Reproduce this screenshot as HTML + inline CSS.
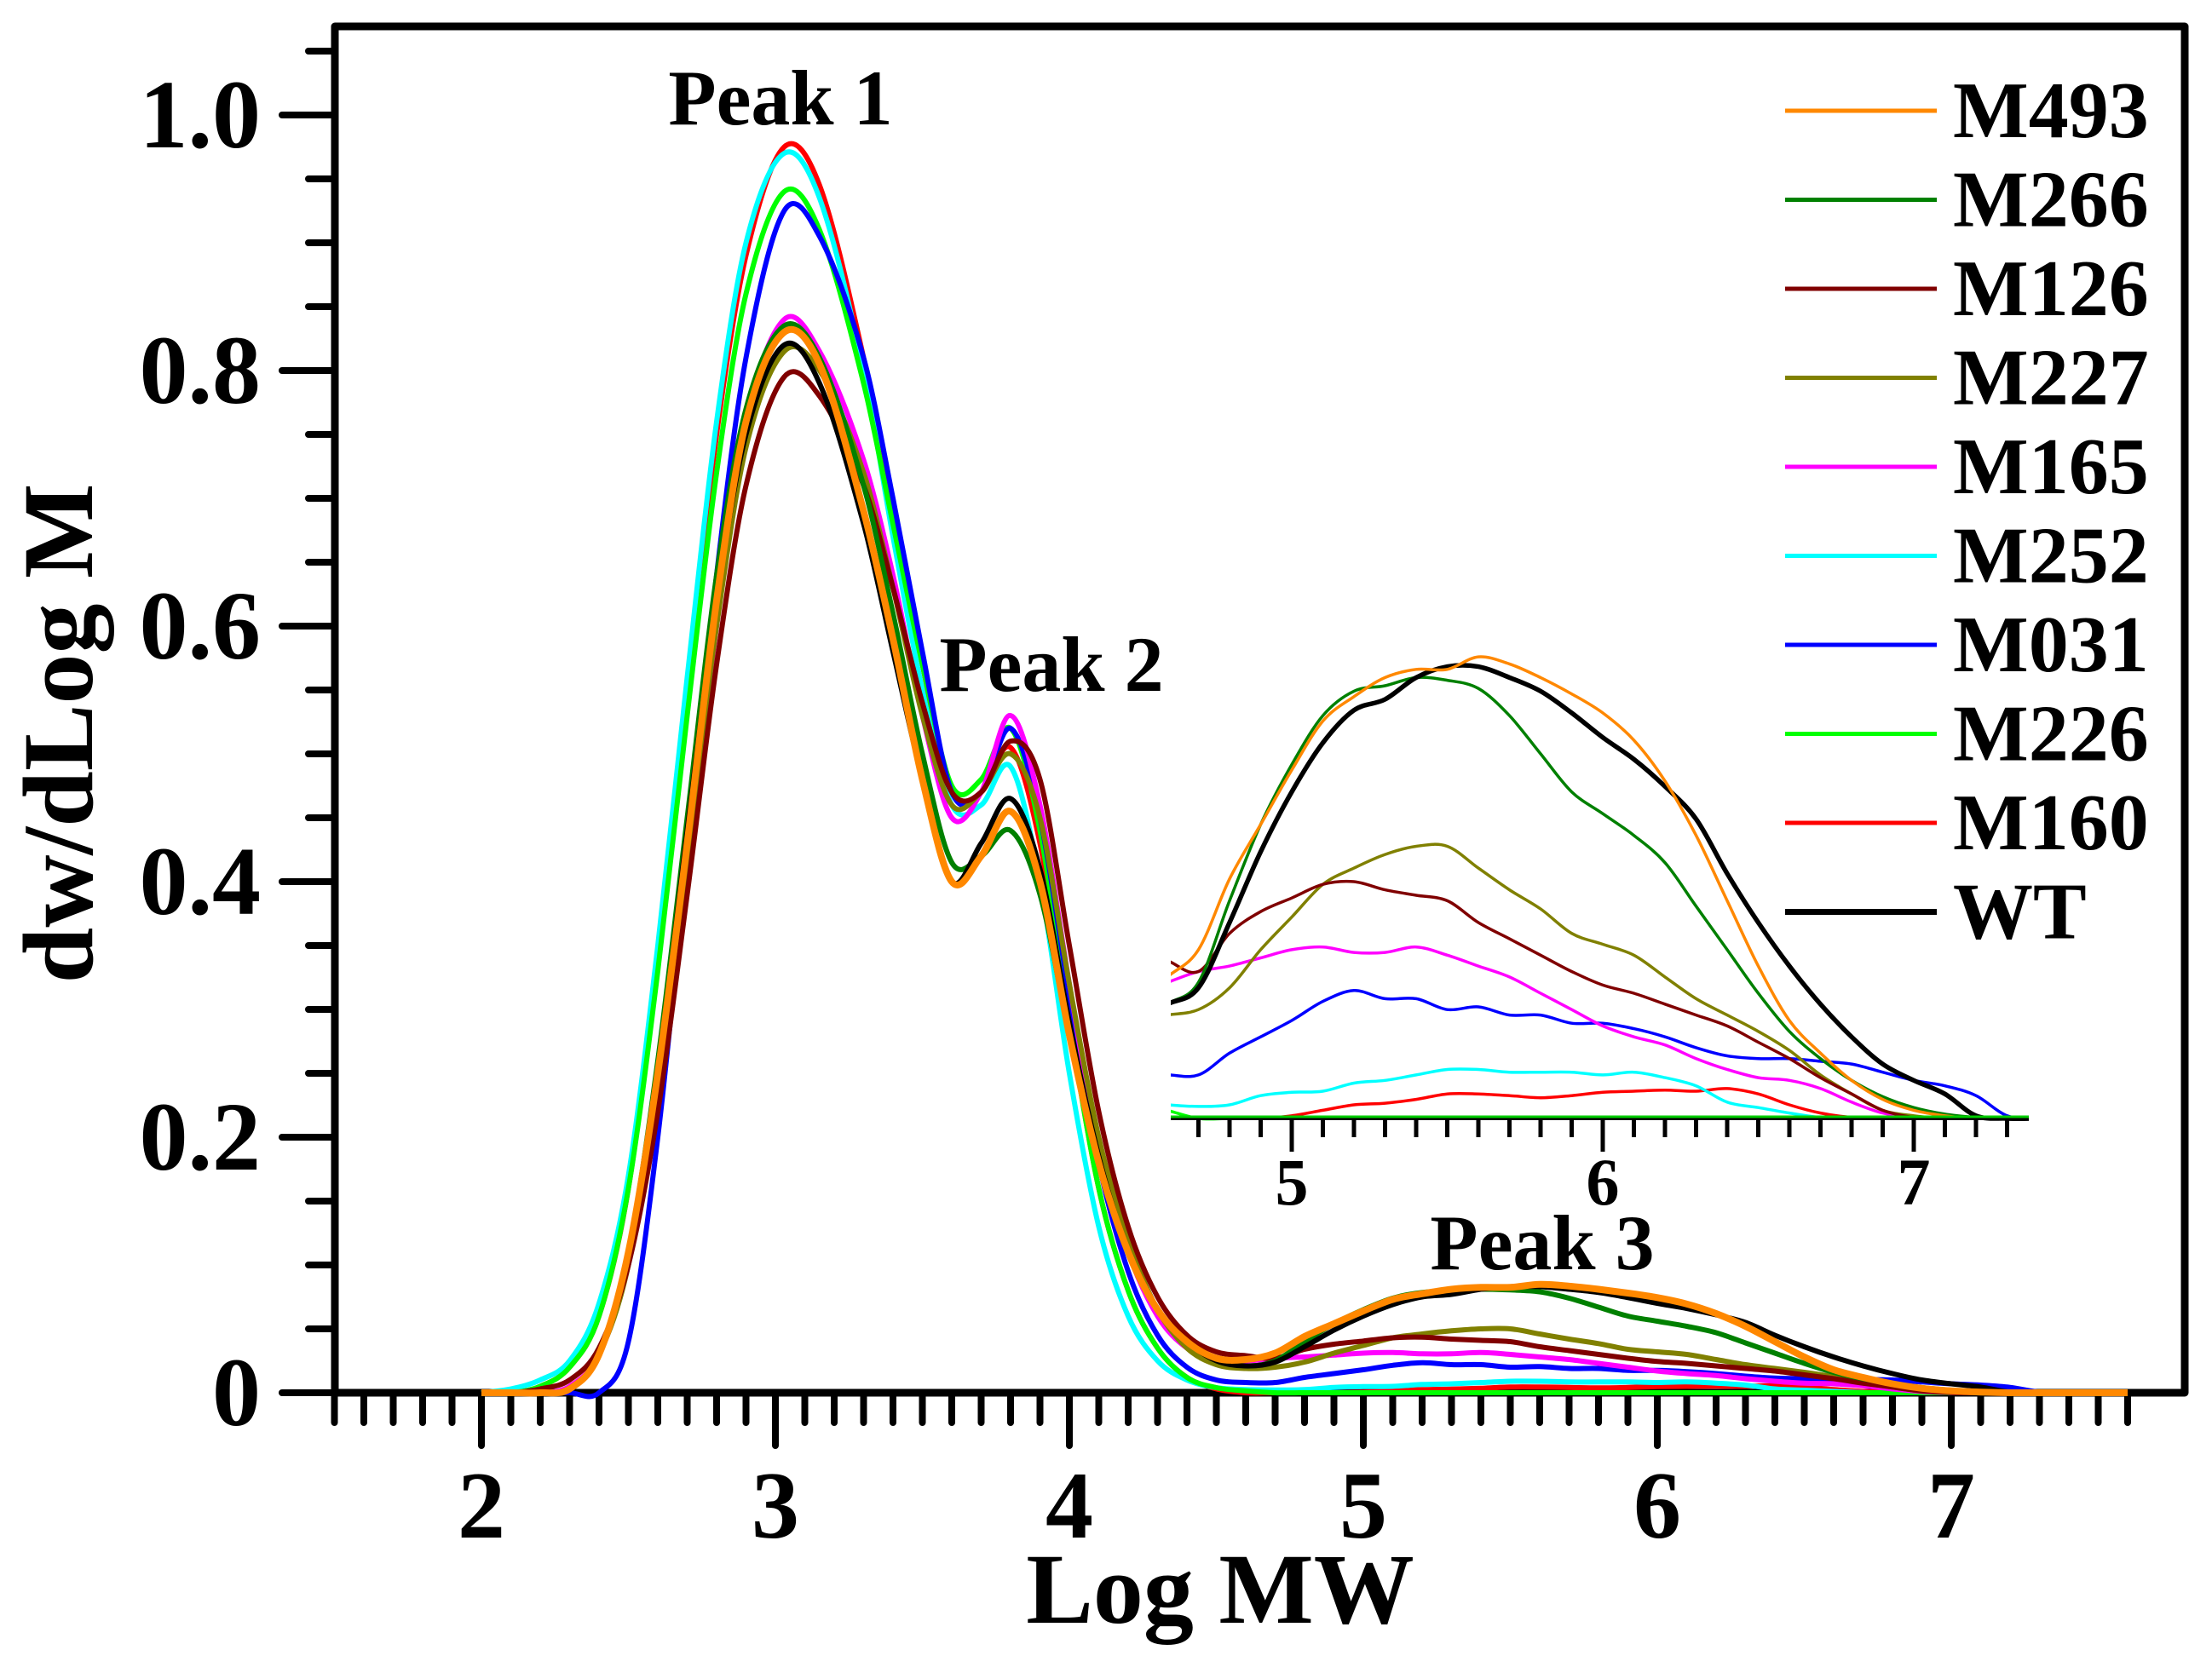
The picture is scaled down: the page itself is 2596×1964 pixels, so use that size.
<!DOCTYPE html>
<html><head><meta charset="utf-8"><style>
html,body{margin:0;padding:0;background:#fff;}
svg{display:block;font-family:"Liberation Serif",serif;font-weight:bold;}
</style></head><body>
<svg id="chart" width="2596" height="1964" viewBox="0 0 2596 1964" xmlns="http://www.w3.org/2000/svg">
<g id="axes"></g>
<g id="series"></g>
<g id="inset"></g>
<g id="legend"></g>
<text x="916" y="146" font-size="92" text-anchor="middle">Peak 1</text>
<text x="1234" y="811" font-size="92" text-anchor="middle">Peak 2</text>
<text x="1810" y="1490" font-size="92" text-anchor="middle">Peak 3</text>
<text x="1432" y="1905" font-size="118" text-anchor="middle">Log MW</text>
<text x="0" y="0" font-size="118" text-anchor="middle" transform="translate(108,861) rotate(-90)">dw/dLog M</text>
</svg>
<script>
const headX = [2.0,2.1,2.2,2.3,2.4,2.5,2.6,2.7,2.8,2.9,3.03,3.15,3.3,3.4,3.5,3.6,3.7,3.8,3.9,4.0,4.1,4.2,4.3,4.4,4.5];
const tailX = [4.6,4.7,4.8,4.9,5.0,5.1,5.2,5.3,5.4,5.5,5.6,5.7,5.8,5.9,6.0,6.1,6.2,6.3,6.4,6.5,6.6,6.7,6.8,6.9,7.0,7.1,7.2,7.3,7.4,7.5,7.6];
const seriesNames = ["M493","M266","M126","M227","M165","M252","M031","M226","M160","WT"];
const seriesColors = ["#ff8800","#008000","#800000","#808000","#ff00ff","#00ffff","#0000ff","#00ff00","#ff0000","#000000"];
const headM493 = [0,0,0,0.003,0.03,0.11,0.25,0.43,0.62,0.76,0.83,0.805,0.69,0.59,0.48,0.40,0.42,0.455,0.40,0.28,0.18,0.11,0.065,0.04,0.027];
const headM266 = [0,0,0,0.003,0.03,0.11,0.26,0.45,0.64,0.77,0.835,0.81,0.71,0.61,0.50,0.415,0.42,0.44,0.39,0.28,0.18,0.11,0.065,0.04,0.027];
const headM126 = [0,0,0.003,0.01,0.035,0.1,0.22,0.39,0.57,0.71,0.795,0.78,0.71,0.63,0.54,0.47,0.47,0.51,0.48,0.35,0.22,0.13,0.075,0.045,0.032];
const headM227 = [0,0,0,0.003,0.03,0.1,0.24,0.42,0.6,0.74,0.815,0.80,0.72,0.63,0.53,0.46,0.47,0.50,0.45,0.32,0.2,0.12,0.065,0.035,0.022];
const headM165 = [0,0,0,0.005,0.03,0.1,0.23,0.41,0.6,0.76,0.84,0.815,0.73,0.64,0.53,0.45,0.47,0.53,0.46,0.32,0.19,0.11,0.06,0.035,0.027];
const headM252 = [0,0.003,0.01,0.025,0.07,0.17,0.35,0.56,0.76,0.9,0.97,0.935,0.8,0.67,0.55,0.46,0.46,0.49,0.40,0.25,0.13,0.06,0.025,0.01,0.004];
const headM031 = [0,0,0,0,0,0.04,0.2,0.42,0.64,0.81,0.925,0.905,0.81,0.70,0.58,0.47,0.47,0.52,0.45,0.31,0.18,0.095,0.045,0.02,0.01];
const headM226 = [0,0,0.005,0.02,0.06,0.16,0.33,0.53,0.72,0.86,0.94,0.91,0.79,0.68,0.57,0.475,0.48,0.52,0.44,0.29,0.16,0.08,0.035,0.012,0.004];
const headM160 = [0,0,0.005,0.02,0.06,0.16,0.34,0.55,0.75,0.89,0.975,0.945,0.81,0.69,0.57,0.47,0.47,0.505,0.43,0.29,0.16,0.08,0.035,0.012,0.003];
const headWT = [0,0,0,0.003,0.03,0.11,0.25,0.44,0.62,0.75,0.82,0.79,0.68,0.58,0.48,0.40,0.43,0.465,0.41,0.29,0.185,0.11,0.065,0.04,0.025];
const tailM493 = [0.026,0.031,0.044,0.054,0.064,0.073,0.0775,0.081,0.0825,0.0825,0.0848,0.0835,0.081,0.078,0.0745,0.0695,0.062,0.052,0.040,0.028,0.018,0.012,0.007,0.0035,0.0015,0.0005,0,0,0,0,0];
const tailM266 = [0.021,0.025,0.040,0.054,0.065,0.074,0.0785,0.0795,0.081,0.0805,0.079,0.074,0.067,0.060,0.056,0.052,0.047,0.039,0.031,0.023,0.016,0.011,0.007,0.004,0.002,0.0008,0.0002,0,0,0,0];
const tailM126 = [0.029,0.027,0.034,0.038,0.0405,0.043,0.0435,0.042,0.041,0.040,0.036,0.033,0.030,0.027,0.0245,0.023,0.021,0.019,0.017,0.014,0.011,0.0075,0.0045,0.0015,0.0002,0,0,0,0,0,0];
const tailM227 = [0.019,0.020,0.024,0.031,0.037,0.043,0.046,0.0485,0.050,0.050,0.046,0.042,0.0385,0.034,0.032,0.030,0.026,0.022,0.019,0.016,0.0125,0.008,0.0045,0.0015,0.0005,0,0,0,0,0,0];
const tailM165 = [0.025,0.027,0.028,0.0295,0.031,0.0315,0.0305,0.0305,0.0315,0.030,0.028,0.026,0.023,0.020,0.017,0.015,0.0135,0.011,0.009,0.0075,0.007,0.0055,0.003,0.001,0.0002,0,0,0,0,0,0];
const tailM252 = [0.0025,0.0022,0.0025,0.0042,0.0048,0.005,0.0065,0.007,0.008,0.009,0.009,0.0085,0.0085,0.0085,0.008,0.0085,0.0075,0.006,0.003,0.002,0.001,0.0002,0,0,0,0,0,0,0,0,0];
const tailM031 = [0.008,0.008,0.012,0.015,0.018,0.0215,0.0235,0.022,0.022,0.020,0.0205,0.019,0.019,0.0175,0.0175,0.0165,0.015,0.013,0.0115,0.011,0.011,0.0105,0.010,0.0085,0.007,0.006,0.0042,0.0005,0,0,0];
const tailM226 = [0.0015,0,0,0,0,0,0,0,0,0,0,0,0,0,0,0,0,0,0,0,0,0,0,0,0,0,0,0,0,0,0];
const tailM160 = [0,0,0,0,0.0005,0.0015,0.0025,0.0028,0.0035,0.0045,0.0045,0.0042,0.0038,0.0042,0.0048,0.005,0.0052,0.005,0.0055,0.0045,0.0025,0.001,0.0002,0,0,0,0,0,0,0,0];
const tailWT = [0.021,0.024,0.036,0.049,0.060,0.069,0.075,0.077,0.081,0.083,0.083,0.081,0.0785,0.0745,0.070,0.066,0.061,0.055,0.045,0.036,0.028,0.021,0.015,0.010,0.007,0.0045,0.0005,0,0,0,0];
const xTickLabels = ["2","3","4","5","6","7"];
const yTickLabels = ["0","0.2","0.4","0.6","0.8","1.0"];
const insetTickLabels = ["5","6","7"];

const heads = [headM493,headM266,headM126,headM227,headM165,headM252,headM031,headM226,headM160,headWT];
const tails = [tailM493,tailM266,tailM126,tailM227,tailM165,tailM252,tailM031,tailM226,tailM160,tailWT];
const NS = "http://www.w3.org/2000/svg";
function mk(tag, attrs, parent){ const e=document.createElementNS(NS,tag); for(const k in attrs) e.setAttribute(k,attrs[k]); parent.appendChild(e); return e; }
const X = v => 565 + (v-2)*345;
const Y = v => 1635 - v*1500;
const IX = v => 1516 + (v-5)*365;
const IY = v => 1313 - v*6390;
function smooth(pts){
  let d = "M"+pts[0][0].toFixed(1)+","+pts[0][1].toFixed(1);
  for(let i=0;i<pts.length-1;i++){
    const p0=pts[Math.max(0,i-1)], p1=pts[i], p2=pts[i+1], p3=pts[Math.min(pts.length-1,i+2)];
    const h=p2[0]-p1[0];
    const m1=(p2[1]-p0[1])/(p2[0]-p0[0]||1), m2=(p3[1]-p1[1])/(p3[0]-p1[0]||1);
    const c1=[p1[0]+h/3, p1[1]+m1*h/3];
    const c2=[p2[0]-h/3, p2[1]-m2*h/3];
    d += "C"+c1[0].toFixed(1)+","+c1[1].toFixed(1)+" "+c2[0].toFixed(1)+","+c2[1].toFixed(1)+" "+p2[0].toFixed(1)+","+p2[1].toFixed(1);
  }
  return d;
}
const axes=document.getElementById('axes');
let fr=mk('path',{d:`M393,1635 L393,31 L2564,31 L2564,1635 Z`,fill:'none',stroke:'#000','stroke-width':9,'stroke-linejoin':'round'},axes);


let xl=mk('line',{x1:390,y1:1635,x2:2564,y2:1635,stroke:'#000','stroke-width':9},axes);


for(let i=0;i<=61;i++){
  const v=1.5+i*0.1; const maj=Math.abs(v-Math.round(v))<1e-6;
  const t=mk('line',{x1:X(v),y1:1635,x2:X(v),y2:maj?1697:1670,stroke:'#000','stroke-width':8,'stroke-linecap':'round'},axes);
  
  
}
xTickLabels.forEach(s=>{
  const t=mk('text',{x:X(+s),y:1805,'font-size':112,'text-anchor':'middle'},axes); t.textContent=s;
  
  
});
for(let i=0;i<=21;i++){
  const v=i*0.05; const maj=i%4===0;
  const t=mk('line',{x1:maj?331:362,y1:Y(v),x2:393,y2:Y(v),stroke:'#000','stroke-width':8,'stroke-linecap':'round'},axes);
  
  
}
yTickLabels.forEach(s=>{
  const t=mk('text',{x:306,y:Y(+s)+38,'font-size':114,'text-anchor':'end'},axes); t.textContent=s;
  
  
});
const sg=document.getElementById('series');
const order=[8,5,7,6,4,3,2,1,9,0];
order.forEach(i=>{
  const xs=headX.concat(tailX), ys=heads[i].concat(tails[i]);
  const pts=xs.map((x,k)=>[X(x),Y(ys[k])]);
  const p=mk('path',{d:smooth(pts),fill:'none',stroke:seriesColors[i],'stroke-width':i===0?8:6,'stroke-linejoin':'round'},sg);
  
  
});
const ig=document.getElementById('inset');
const cp=mk('clipPath',{id:'iclip'},ig);
mk('rect',{x:1374,y:600,width:1007,height:716},cp);
order.forEach(i=>{
  const pts=tailX.map((x,k)=>[IX(x),IY(tails[i][k])]);
  const p=mk('path',{d:smooth(pts),fill:'none',stroke:seriesColors[i],'stroke-width':i===9?5.5:3.5,'clip-path':'url(#iclip)','stroke-linejoin':'round'},ig);
  
  
});
let il=mk('line',{x1:1374,y1:1313,x2:2381,y2:1313,stroke:'#000','stroke-width':4},ig);


let g0=mk('line',{x1:1374,y1:1311,x2:2381,y2:1311,stroke:'#00cc00','stroke-width':3},ig);


for(let i=0;i<=26;i++){
  const v=4.7+i*0.1; const maj=Math.abs(v-Math.round(v))<1e-6;
  const t=mk('line',{x1:IX(v),y1:1313,x2:IX(v),y2:maj?1352:1335,stroke:'#000','stroke-width':5},ig);
  
  
}
insetTickLabels.forEach(s=>{
  const t=mk('text',{x:IX(+s),y:1414,'font-size':78,'text-anchor':'middle'},ig); t.textContent=s;
  
  
});
const lg=document.getElementById('legend');
seriesNames.forEach((n,i)=>{
  const y=130+i*104.5;
  const l=mk('line',{x1:2095,y1:y,x2:2273,y2:y,stroke:seriesColors[i],'stroke-width':i===9?7:5},lg);
  
  
  const t=mk('text',{x:2292,y:y+31,'font-size':94},lg); t.textContent=n;
  
  
});
</script>
</body></html>
